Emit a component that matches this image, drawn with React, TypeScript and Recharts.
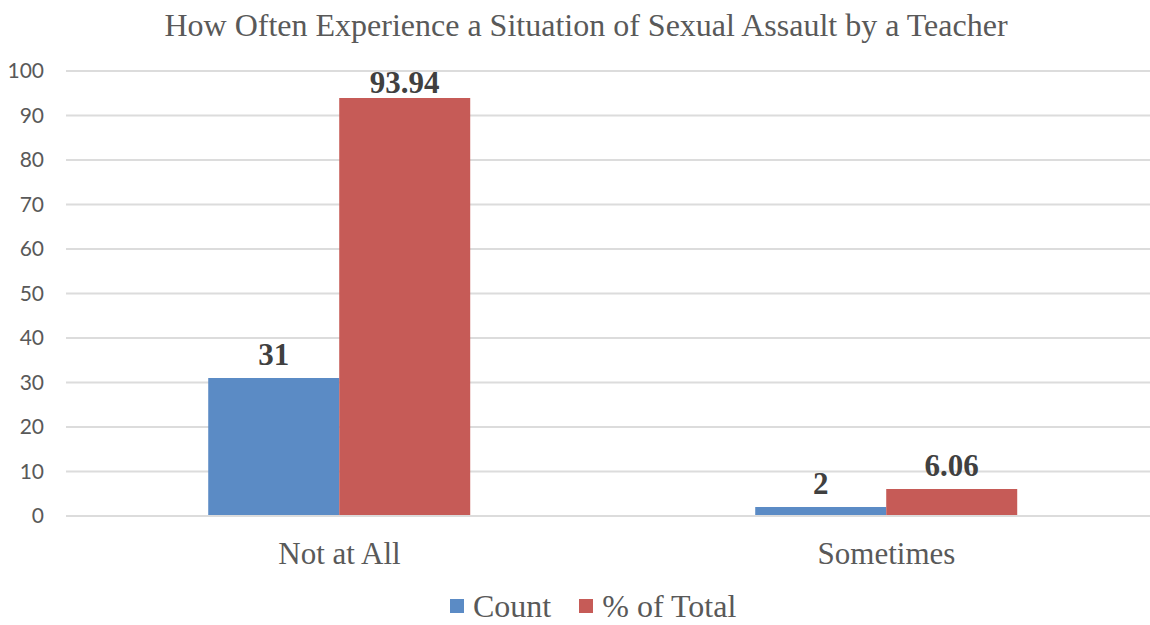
import React from 'react';
import { BarChart, Bar, XAxis, YAxis, CartesianGrid, LabelList } from 'recharts';

// Chart data
const categories = ['Not at All', 'Sometimes'];
const countValues = [31, 2];
const percentValues = [93.94, 6.06];
const seriesNames = ['Count', '% of Total'];
const yTicks = [0, 10, 20, 30, 40, 50, 60, 70, 80, 90, 100];
const chartTitle = 'How Often Experience a Situation of Sexual Assault by a Teacher';

const data = categories.map((category, i) => ({
  category,
  count: countValues[i],
  percent: percentValues[i],
}));

// Styling / layout
const SERIF = '"Liberation Serif", "Times New Roman", serif';
const SANS = 'Lato, "Open Sans", sans-serif';
const BLUE = '#5B8BC5';
const RED = '#C65B57';
const GRID = '#dcdcdc';
const TEXT_GRAY = '#595959';
const LABEL_GRAY = '#404040';
const PLOT_TOP = 71;

// Value label above each bar, kept inside the plot area
const renderValueLabel = (props: any) => {
  const { x, y, width, value } = props;
  const baseline = Math.max(Number(y) - 13, PLOT_TOP + 22);
  return (
    <text
      x={Number(x) + Number(width) / 2}
      y={baseline}
      textAnchor="middle"
      fontFamily={SERIF}
      fontWeight="bold"
      fontSize={31}
      fill={LABEL_GRAY}
    >
      {value}
    </text>
  );
};

const LegendItem = ({ color, label }: { color: string; label: string }) => (
  <div style={{ display: 'flex', alignItems: 'center', marginRight: 28 }}>
    <div style={{ width: 14, height: 14, background: color, marginRight: 9 }} />
    <span>{label}</span>
  </div>
);

export default function App() {
  return (
    <div
      style={{
        position: 'absolute',
        left: 0,
        top: 0,
        width: 1150,
        height: 625,
        overflow: 'hidden',
        background: '#ffffff',
      }}
    >
      <div
        style={{
          position: 'absolute',
          left: 0,
          top: 9,
          width: 1172,
          textAlign: 'center',
          fontFamily: SERIF,
          fontSize: 32,
          lineHeight: '32px',
          color: TEXT_GRAY,
          whiteSpace: 'nowrap',
        }}
      >
        {chartTitle}
      </div>

      <BarChart
        width={1170}
        height={625}
        data={data}
        margin={{ top: PLOT_TOP, right: 10, left: 0, bottom: 59 }}
        barCategoryGap="26%"
        barGap={0}
      >
        <CartesianGrid vertical={false} stroke={GRID} strokeWidth={2} />
        <XAxis
          dataKey="category"
          height={50}
          tickLine={false}
          axisLine={{ stroke: GRID, strokeWidth: 2 }}
          tickMargin={20}
          tick={{ fontFamily: SERIF, fontSize: 31, fill: TEXT_GRAY }}
        />
        <YAxis
          width={66}
          domain={[0, 100]}
          ticks={yTicks}
          interval={0}
          axisLine={false}
          tickLine={false}
          tickMargin={16}
          tick={{ fontFamily: SANS, fontSize: 21, fill: TEXT_GRAY }}
        />
        <Bar dataKey="count" name={seriesNames[0]} fill={BLUE} isAnimationActive={false}>
          <LabelList dataKey="count" content={renderValueLabel} />
        </Bar>
        <Bar dataKey="percent" name={seriesNames[1]} fill={RED} isAnimationActive={false}>
          <LabelList dataKey="percent" content={renderValueLabel} />
        </Bar>
      </BarChart>

      <div
        style={{
          position: 'absolute',
          left: 450,
          top: 592,
          display: 'flex',
          fontFamily: SERIF,
          fontSize: 32,
          lineHeight: '28px',
          color: TEXT_GRAY,
          whiteSpace: 'nowrap',
        }}
      >
        <LegendItem color={BLUE} label={seriesNames[0]} />
        <LegendItem color={RED} label={seriesNames[1]} />
      </div>
    </div>
  );
}
